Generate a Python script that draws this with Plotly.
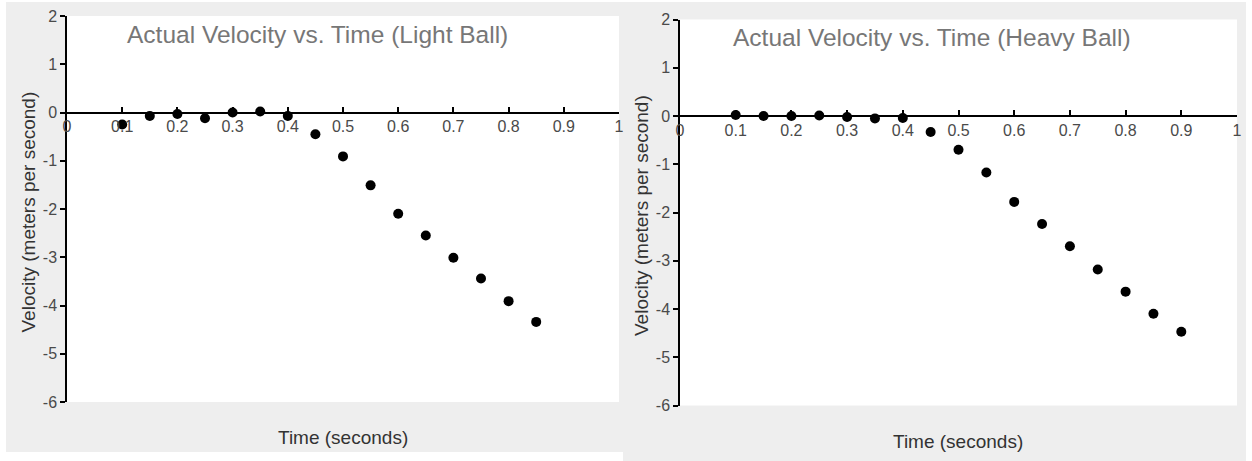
import plotly.graph_objects as go

W, H = 1252, 461

# ---- data ----
time_light = [0.1, 0.15, 0.2, 0.25, 0.3, 0.35, 0.4, 0.45, 0.5, 0.55, 0.6, 0.65, 0.7, 0.75, 0.8, 0.85]
vel_light = [-0.25, -0.07, -0.03, -0.12, 0.0, 0.02, -0.07, -0.45, -0.91, -1.51, -2.10, -2.55, -3.01, -3.44, -3.91, -4.34]

time_heavy = [0.1, 0.15, 0.2, 0.25, 0.3, 0.35, 0.4, 0.45, 0.5, 0.55, 0.6, 0.65, 0.7, 0.75, 0.8, 0.85, 0.9]
vel_heavy = [0.02, 0.0, 0.0, 0.01, -0.02, -0.05, -0.04, -0.33, -0.70, -1.17, -1.78, -2.24, -2.70, -3.18, -3.64, -4.10, -4.47]

x_ticks = [0, 0.1, 0.2, 0.3, 0.4, 0.5, 0.6, 0.7, 0.8, 0.9, 1]
x_tick_labels = ["0", "0.1", "0.2", "0.3", "0.4", "0.5", "0.6", "0.7", "0.8", "0.9", "1"]
y_ticks = [-6, -5, -4, -3, -2, -1, 0, 1, 2]
y_tick_labels = ["-6", "-5", "-4", "-3", "-2", "-1", "0", "1", "2"]

title_light = "Actual Velocity vs. Time (Light Ball)"
title_heavy = "Actual Velocity vs. Time (Heavy Ball)"
x_title = "Time (seconds)"
y_title = "Velocity (meters per second)"


def fx(px):
    return px / W


def fy(py):
    return 1 - py / H


FONT = "Liberation Sans, Arial, Helvetica, sans-serif"
TICK_COLOR = "#4a4a4a"

fig = go.Figure()
fig.add_trace(go.Scatter(x=time_light, y=vel_light, mode="markers", xaxis="x", yaxis="y",
                         marker=dict(color="black", size=10), showlegend=False, cliponaxis=False))
fig.add_trace(go.Scatter(x=time_heavy, y=vel_heavy, mode="markers", xaxis="x2", yaxis="y2",
                         marker=dict(color="black", size=10), showlegend=False, cliponaxis=False))

common_x = dict(range=[0, 1], tickmode="array", tickvals=x_ticks, ticktext=x_tick_labels,
                showgrid=False, zeroline=False, showline=True, linecolor="black", linewidth=1.5,
                ticks="inside", ticklen=5, tickcolor="black", tickwidth=1.5,
                tickfont=dict(family=FONT, size=16, color=TICK_COLOR), anchor="free",
                automargin=False, fixedrange=True)
common_y = dict(range=[-6, 2], tickmode="array", tickvals=y_ticks, ticktext=y_tick_labels,
                showgrid=False, zeroline=False, showline=True, linecolor="black", linewidth=1.5,
                ticks="outside", ticklen=5, tickcolor="black", tickwidth=1.5,
                tickfont=dict(family=FONT, size=16, color=TICK_COLOR),
                automargin=False, fixedrange=True)

# left panel: x 67..619 px, y 16..402 px (0 at 112.5)
# right panel: x 680..1237 px, y 19.5..405.5 px (0 at 116)
fig.update_layout(
    width=W, height=H,
    margin=dict(l=0, r=0, t=0, b=0, pad=0, autoexpand=False),
    paper_bgcolor="#eeeeee",
    plot_bgcolor="white",
    xaxis=dict(common_x, domain=[fx(67), fx(619)], position=fy(112.5)),
    yaxis=dict(common_y, domain=[fy(402), fy(16)], anchor="x"),
    xaxis2=dict(common_x, domain=[fx(680), fx(1237)], position=fy(116)),
    yaxis2=dict(common_y, domain=[fy(405.5), fy(19.5)], anchor="x2"),
    showlegend=False,
)

# white strips framing the two grey panels
white_rects = [
    (0, 0, W, 2),
    (0, 0, 6, H),
    (1246, 0, W, H),
    (0, 452, 623, H),
]
for x0, y0, x1, y1 in white_rects:
    fig.add_shape(type="rect", xref="paper", yref="paper",
                  x0=fx(x0), x1=fx(x1), y0=fy(y1), y1=fy(y0),
                  fillcolor="white", line=dict(width=0), layer="above")

annotations = [
    dict(text=title_light, x=fx(317), y=fy(34), font=dict(family=FONT, size=24.5, color="#777777")),
    dict(text=title_heavy, x=fx(932), y=fy(37), font=dict(family=FONT, size=24.5, color="#777777")),
    dict(text=x_title, x=fx(343), y=fy(437.5), font=dict(family=FONT, size=19, color="#333333")),
    dict(text=x_title, x=fx(958), y=fy(441), font=dict(family=FONT, size=19, color="#333333")),
    dict(text=y_title, x=fx(27.5), y=fy(212), textangle=-90, font=dict(family=FONT, size=19, color="#333333")),
    dict(text=y_title, x=fx(641), y=fy(216), textangle=-90, font=dict(family=FONT, size=19, color="#333333")),
]
for a in annotations:
    fig.add_annotation(xref="paper", yref="paper", xanchor="center", yanchor="middle",
                       showarrow=False, **a)

fig.write_html("out.html", config={"displayModeBar": False},
               post_script="document.body.style.margin='0px';")
